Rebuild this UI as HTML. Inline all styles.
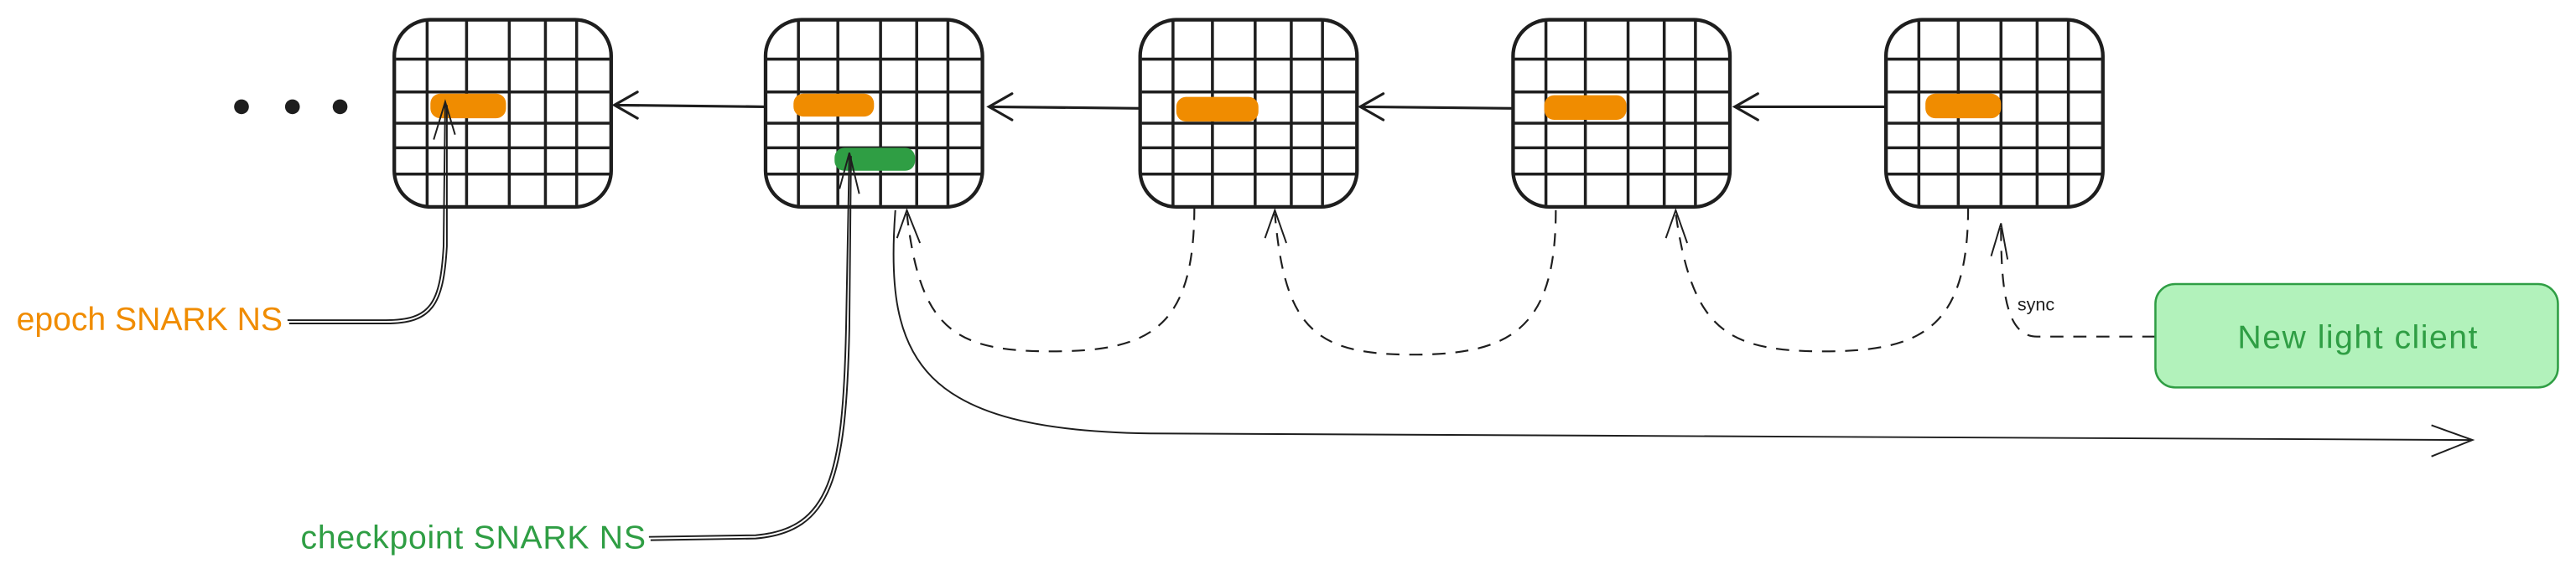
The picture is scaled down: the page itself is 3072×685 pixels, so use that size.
<!DOCTYPE html>
<html><head><meta charset="utf-8"><style>html,body{margin:0;padding:0;background:#fff}svg{display:block}</style></head>
<body>
<svg width="3072" height="685" viewBox="0 0 1568 349.6" xmlns="http://www.w3.org/2000/svg">
<defs>
<g id="grid">
 <rect x="0" y="0" width="132" height="114" rx="22" fill="#fff" stroke="#1e1e1e" stroke-width="2.2"/>
 <g stroke="#1e1e1e" stroke-width="1.8">
  <line x1="20" y1="1" x2="20" y2="113"/><line x1="44" y1="1" x2="44" y2="113"/>
  <line x1="70" y1="1" x2="70" y2="113"/><line x1="92" y1="1" x2="92" y2="113"/>
  <line x1="111" y1="1" x2="111" y2="113"/>
  <line x1="1" y1="24" x2="131" y2="24"/><line x1="1" y1="44" x2="131" y2="44"/>
  <line x1="1" y1="63" x2="131" y2="63"/><line x1="1" y1="78" x2="131" y2="78"/>
  <line x1="1" y1="94" x2="131" y2="94"/>
 </g>
</g>
</defs>
<circle cx="147" cy="65" r="4.5" fill="#1e1e1e"/>
<circle cx="178" cy="65" r="4.5" fill="#1e1e1e"/>
<circle cx="207" cy="65" r="4.5" fill="#1e1e1e"/>
<use href="#grid" x="240" y="12"/>
<use href="#grid" x="466" y="12"/>
<use href="#grid" x="694" y="12"/>
<use href="#grid" x="921" y="12"/>
<use href="#grid" x="1148" y="12"/>
<g fill="#f08c00">
 <rect x="262" y="57" width="46" height="15" rx="6"/>
 <rect x="483" y="57" width="49" height="14" rx="6"/>
 <rect x="716" y="59" width="50" height="15" rx="6"/>
 <rect x="940" y="58" width="50" height="15" rx="6"/>
 <rect x="1172" y="57" width="46" height="15" rx="6"/>
</g>
<rect x="508" y="90" width="49" height="14" rx="6" fill="#2f9e44"/>
<g stroke="#1e1e1e" stroke-width="1.6" fill="none" stroke-linecap="round">
 <path d="M466,65 L374,64 M388,56 L374,64 L388,72"/>
 <path d="M694,66 L602,65 M616,57 L602,65 L616,73"/>
 <path d="M921,66 L828,65 M842,57 L828,65 L842,73"/>
 <path d="M1148,65 L1056,65 M1070,57 L1056,65 L1070,73"/>
</g>
<g stroke="#1e1e1e" stroke-width="1.1" fill="none" stroke-dasharray="8 6">
 <path d="M727,126 C727,200 700,214 640,214 C580,214 560,200 552,130"/>
 <path d="M947,128 C947,200 920,216 860,216 C800,216 782,200 776,130"/>
 <path d="M1198,126 C1198,200 1170,214 1110,214 C1050,214 1030,200 1020,130"/>
 <path d="M1312,205 L1240,205 C1222,205 1218,180 1218,138"/>
</g>
<g stroke="#1e1e1e" stroke-width="1" fill="none">
 <path d="M546,145 L552,128 L560,148"/>
 <path d="M770,145 L776,128 L783,148"/>
 <path d="M1014,145 L1020,128 L1027,148"/>
 <path d="M1212,156 L1218,136 L1222,158"/>
 <path d="M545,128 C538,220 560,262 700,264 L1505,268 M1480,259 L1505,268 L1480,278"/>
 <path d="M175,195 L235,195 C262,195 268,185 270,150 L271,62 M264,85 L271,62 L277,82"/>
 <path d="M176,197 L235,197 C263,197 270,186 272,150 L272,64"/>
 <path d="M395,327 L460,326 C505,322 513,290 515,200 L517,93 M511,115 L517,93 L523,118"/>
 <path d="M396,329 L460,328 C507,324 515,290 517,200 L518,95"/>
</g>
<rect x="1312" y="173" width="245" height="63" rx="12" fill="#b2f2bb" stroke="#2f9e44" stroke-width="1.3"/>
<text x="1435" y="212" text-anchor="middle" font-family="Liberation Sans, sans-serif" font-size="20" fill="#2f9e44" textLength="146">New light client</text>
<text x="1228" y="189" font-family="Liberation Sans, sans-serif" font-size="11" fill="#1e1e1e">sync</text>
<text x="10" y="201" font-family="Liberation Sans, sans-serif" font-size="20" fill="#f08c00" textLength="162">epoch SNARK NS</text>
<text x="183" y="334" font-family="Liberation Sans, sans-serif" font-size="20" fill="#2f9e44" textLength="210">checkpoint SNARK NS</text>
</svg>
</body></html>
